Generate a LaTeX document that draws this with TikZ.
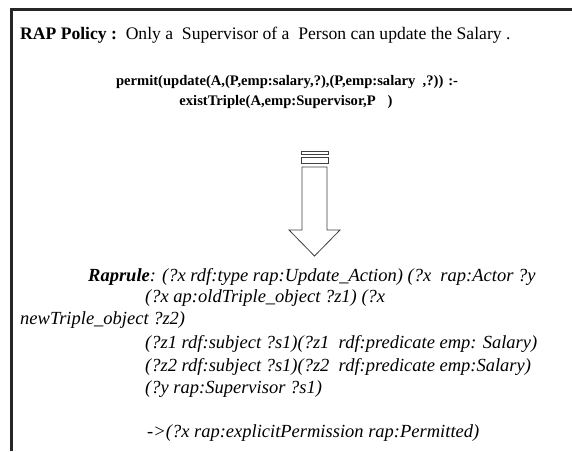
\documentclass[tikz,border=0pt]{standalone}
\usepackage{fontspec}
\setmainfont{Liberation Serif}
\begin{document}
\begin{tikzpicture}[x=1pt,y=1pt,
  txt/.style={anchor=base west,inner sep=0pt,font=\fontsize{17.6}{21}\selectfont},
  ctxt/.style={anchor=base,inner sep=0pt,font=\fontsize{14.6}{18}\selectfont\bfseries},
  rule/.style={anchor=base west,inner sep=0pt,font=\fontsize{18.5}{22}\selectfont\itshape},
  frame/.style={line width=3pt,black!85},
  arrowpart/.style={draw=black!75,line width=0.8pt,fill=white}]
\useasboundingbox (0,0) rectangle (572,-451);
% frame edges
\draw[frame] (11,-451) -- (11,-9) -- (572,-9);
% policy statement
\node[txt] (pol) at (20,-39) {\textbf{RAP Policy :}\ \ Only a\ \ Supervisor of a\ \ Person can update the Salary .};
\node[ctxt] (perm) at (287,-85) {permit(update(A,(P,emp:salary,?),(P,emp:salary\ \ ,?)) :-};
\node[ctxt] (ex) at (286,-105) {existTriple(A,emp:Supervisor,P\hspace{12pt})};
% hollow transformation arrow
\draw[arrowpart] (301,-151) rectangle (328,-154);
\draw[arrowpart] (301,-157) rectangle (328,-163);
\draw[arrowpart] (302,-167) -- (302,-230) -- (289,-230) -- (314.5,-256) -- (340,-230) -- (327,-230) -- (327,-167) -- cycle;
% translated rule
\node[rule] (r1) at (88,-281) {\textbf{Raprule}: (?x rdf:type rap:Update\_Action) (?x\ \ rap:Actor ?y};
\node[rule] (r2) at (145,-302) {(?x ap:oldTriple\_object ?z1) (?x};
\node[rule] (r3) at (20,-324) {newTriple\_object ?z2)};
\node[rule] (r4) at (145,-348) {(?z1 rdf:subject ?s1)(?z1\ \ rdf:predicate emp: Salary)};
\node[rule] (r5) at (145,-371) {(?z2 rdf:subject ?s1)(?z2\ \ rdf:predicate emp:Salary)};
\node[rule] (r6) at (145,-393) {(?y rap:Supervisor ?s1)};
\node[rule] (r7) at (147,-437) {->(?x rap:explicitPermission rap:Permitted)};
\end{tikzpicture}
\end{document}
